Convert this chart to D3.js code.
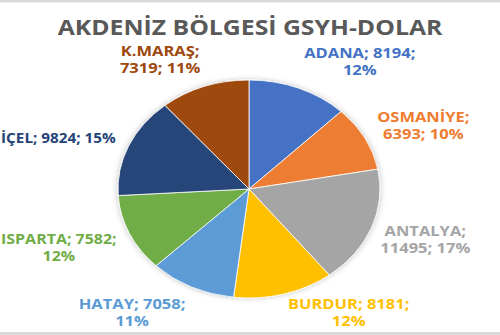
<!DOCTYPE html>
<html>
<head>
<meta charset="utf-8">
<script src="https://d3js.org/d3.v7.min.js"></script>
<style>
  body { margin: 0; background: #fff; }
  text { font-family: "Open Sans", sans-serif; font-weight: bold; }
</style>
</head>
<body>
<div id="chart"></div>
<script>

// data (clockwise from 12 o'clock)
var cities  = ["ADANA", "OSMANİYE", "ANTALYA", "BURDUR", "HATAY", "ISPARTA", "İÇEL", "K.MARAŞ"];
var values  = [8194, 6393, 11495, 8181, 7058, 7582, 9824, 7319];
var colors  = ["#4472C4", "#ED7D31", "#A5A5A5", "#FFC000", "#5B9BD5", "#70AD47", "#264478", "#9E480E"];
// how each label wraps, as Excel did it
var labelLines = [
  ["ADANA; 8194;", "12%"],
  ["OSMANİYE;", "6393; 10%"],
  ["ANTALYA;", "11495; 17%"],
  ["BURDUR; 8181;", "12%"],
  ["HATAY; 7058;", "11%"],
  ["ISPARTA; 7582;", "12%"],
  ["İÇEL; 9824; 15%"],
  ["K.MARAŞ;", "7319; 11%"]
];

var width = 500, height = 335;
var cx = 249, cy = 189, rx = 131, ry = 109;
var stretch = 1.18;   // the original picture is stretched sideways

var svg = d3.select("#chart")
  .append("svg")
    .attr("width", width)
    .attr("height", height);

// thin frame lines from the screenshot crop
svg.append("rect").attr("x", 0).attr("y", 0).attr("width", width).attr("height", 2.5).style("fill", "#d9d9d9");
svg.append("rect").attr("x", 0).attr("y", 332).attr("width", width).attr("height", 3).style("fill", "#d9d9d9");

var defs = svg.append("defs");
var f = defs.append("filter").attr("id", "shadow").attr("x", "-20%").attr("y", "-20%").attr("width", "140%").attr("height", "140%");
f.append("feDropShadow").attr("dx", 0).attr("dy", 0).attr("stdDeviation", 3)
  .attr("flood-color", "#000").attr("flood-opacity", 0.25);

// title
svg.append("g")
  .attr("transform", "translate(250,35) scale(" + stretch + ",1)")
  .append("text")
    .attr("text-anchor", "middle")
    .style("font-size", "21px")
    .style("fill", "#595959")
    .text("AKDENİZ BÖLGESİ GSYH-DOLAR");

var data = cities.map(function(c, i) { return {city: c, value: values[i], color: colors[i], lines: labelLines[i]}; });

var pie = d3.pie().sort(null).value(function(d) { return d.value; });
var arcs = pie(data);

// draw a circle of radius rx and squash it vertically into an ellipse
var arc = d3.arc().innerRadius(0).outerRadius(rx);

var g = svg.append("g")
  .attr("transform", "translate(" + cx + "," + cy + ") scale(1," + (ry / rx) + ")")
  .attr("filter", "url(#shadow)");

g.selectAll("path")
  .data(arcs)
  .enter().append("path")
    .attr("d", arc)
    .style("fill", function(d) { return d.data.color; })
    .style("stroke", "#fff")
    .style("stroke-width", 0.8)
    .attr("vector-effect", "non-scaling-stroke");

// labels outside the ellipse
var lrx = 145, lry = 139, lineH = 17;

function midAngle(d) { return (d.startAngle + d.endAngle) / 2; }

var labels = svg.append("g").selectAll("g")
  .data(arcs)
  .enter().append("g");

labels.append("text")
  .style("font-size", "14px")
  .style("fill", function(d) { return d.data.color; })
  .each(function(d) {
    var a = midAngle(d);
    var right = Math.sin(a) >= 0;
    var x = cx + lrx * Math.sin(a);
    var yc = cy - lry * Math.cos(a) + 2;
    var n = d.data.lines.length;
    var top = yc - (n * lineH) / 2;
    if (n === 1) top += 3;
    if (top + n * lineH > 330) top = 330 - n * lineH;
    var t = d3.select(this);
    var spans = d.data.lines.map(function(line, k) {
      return t.append("tspan")
        .attr("x", 0)
        .attr("y", top + (k + 1) * lineH - 4)
        .text(line);
    });
    // every line centred under the first line, pinned on the pie side
    var w0 = spans[0].node().getComputedTextLength();
    var mid = right ? w0 / 2 : -w0 / 2;
    spans.forEach(function(s) {
      s.attr("x", mid).attr("text-anchor", "middle");
    });
    // keep the label inside the page
    var room = right ? (width - 2 - x) : (x - 1);
    var s = Math.min(stretch, room / w0);
    d3.select(this.parentNode)
      .attr("transform", "translate(" + x + ",0) scale(" + s + ",1)");
  });
</script>
</body>
</html>
